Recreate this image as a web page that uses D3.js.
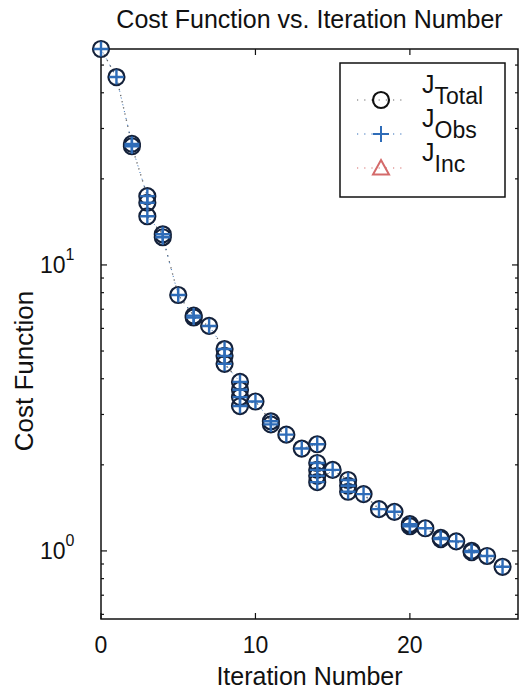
<!DOCTYPE html>
<html>
<head>
<meta charset="utf-8">
<script src="https://cdn.jsdelivr.net/npm/d3@7"></script>
<style>
  body { margin: 0; background: #fff; }
  text { font-family: "Liberation Sans", Arial, sans-serif; fill: #111; }
</style>
</head>
<body>
<div id="chart"></div>
<script>
// Iteration number of every cost evaluation (several per iteration)
var iterations = [0, 1, 2, 2, 3, 3, 3, 4, 4, 5, 6, 6, 7, 8, 8, 8, 9, 9, 9, 9, 10, 11, 11, 12, 13,
  14, 14, 14, 14, 14, 15, 16, 16, 16, 17, 18, 19, 20, 20, 21, 22, 22, 23, 24, 24, 25, 26];
// Total cost
var jTotal = [56.9, 45.4, 26.5, 26.0, 17.4, 16.5, 14.8, 12.8, 12.5, 7.85, 6.65, 6.55, 6.12,
  5.08, 4.81, 4.51, 3.90, 3.66, 3.45, 3.21, 3.33, 2.84, 2.77, 2.55, 2.28,
  2.36, 2.03, 1.92, 1.83, 1.74, 1.92, 1.77, 1.69, 1.61, 1.58, 1.40, 1.37, 1.24, 1.22,
  1.20, 1.11, 1.10, 1.08, 1.00, 0.99, 0.96, 0.88];
// Observation cost sits right on top of the total
var jObs = [56.9, 45.4, 26.5, 26.0, 17.4, 16.5, 14.8, 12.8, 12.5, 7.85, 6.65, 6.55, 6.12,
  5.08, 4.81, 4.51, 3.90, 3.66, 3.45, 3.21, 3.33, 2.84, 2.77, 2.55, 2.28,
  2.36, 2.03, 1.92, 1.83, 1.74, 1.92, 1.77, 1.69, 1.61, 1.58, 1.40, 1.37, 1.24, 1.22,
  1.20, 1.11, 1.10, 1.08, 1.00, 0.99, 0.96, 0.88];
// Increment cost: no triangles visible inside the axes, so nothing to plot
var jInc = [];

var xTicks = [0, 10, 20];
var yTicks = [1, 10];
var legendNames = [["J", "Total"], ["J", "Obs"], ["J", "Inc"]];

var W = 519, H = 693;
var plotL = 101, plotR = 518, plotT = 49, plotB = 619;

var svg = d3.select("#chart").append("svg")
  .attr("width", W).attr("height", H);

var x = d3.scaleLinear().domain([0, 27]).range([plotL, plotR]);
var y = d3.scaleLog().domain([0.578, 56.9]).range([plotB, plotT]);

var blue = "#2e6cb8", red = "#d46a6a", edge = "#14213a";

// title and axis labels
svg.append("text").attr("x", (plotL + plotR) / 2).attr("y", 28)
  .attr("text-anchor", "middle").style("font-size", "25px")
  .text("Cost Function vs. Iteration Number");
svg.append("text").attr("x", (plotL + plotR) / 2).attr("y", 685)
  .attr("text-anchor", "middle").style("font-size", "25px")
  .text("Iteration Number");
svg.append("text").attr("transform", "translate(33,371) rotate(-90)")
  .attr("text-anchor", "middle").style("font-size", "26px")
  .text("Cost Function");

// x tick labels
svg.selectAll(".xl").data(xTicks).enter().append("text")
  .attr("x", function (d) { return x(d); }).attr("y", 653)
  .attr("text-anchor", "middle").style("font-size", "23px")
  .text(function (d) { return d; });

// y tick labels as 10^n
yTicks.forEach(function (t) {
  var lbl = svg.append("text").attr("x", 40).attr("y", y(t) + 8)
    .style("font-size", "23px");
  lbl.append("tspan").text("10");
  lbl.append("tspan").attr("dy", -13).style("font-size", "16px").text(Math.round(Math.log10(t)));
});

// ticks pointing inward, on all four sides
var minor = [];
[0.1, 1, 10].forEach(function (dec) {
  for (var k = 2; k <= 9; k++) {
    var v = k * dec;
    if (v > 0.578 && v < 56.9) minor.push(v);
  }
});
var tickG = svg.append("g").attr("stroke", "#111").attr("stroke-width", 1.2);
yTicks.forEach(function (t) {
  tickG.append("line").attr("x1", plotL).attr("x2", plotL + 6).attr("y1", y(t)).attr("y2", y(t));
  tickG.append("line").attr("x1", plotR).attr("x2", plotR - 6).attr("y1", y(t)).attr("y2", y(t));
});
minor.forEach(function (t) {
  tickG.append("line").attr("x1", plotL).attr("x2", plotL + 3).attr("y1", y(t)).attr("y2", y(t));
  tickG.append("line").attr("x1", plotR).attr("x2", plotR - 3).attr("y1", y(t)).attr("y2", y(t));
});
xTicks.forEach(function (t) {
  tickG.append("line").attr("x1", x(t)).attr("x2", x(t)).attr("y1", plotB).attr("y2", plotB - 6);
  tickG.append("line").attr("x1", x(t)).attr("x2", x(t)).attr("y1", plotT).attr("y2", plotT + 6);
});

// axes box
svg.append("rect").attr("x", plotL).attr("y", plotT)
  .attr("width", plotR - plotL).attr("height", plotB - plotT)
  .attr("fill", "none").attr("stroke", "#111").attr("stroke-width", 1.5);

// dotted connecting lines
var lineOf = function (vals) {
  return d3.line()
    .x(function (d, i) { return x(iterations[i]); })
    .y(function (d) { return y(d); })(vals);
};
svg.append("path").attr("d", lineOf(jTotal)).attr("fill", "none")
  .attr("stroke", "#666").attr("stroke-width", 1.3).attr("stroke-dasharray", "1.3,5");
svg.append("path").attr("d", lineOf(jObs)).attr("fill", "none")
  .attr("stroke", blue).attr("stroke-width", 1).attr("stroke-dasharray", "1,6")
  .attr("stroke-dashoffset", 3);

// markers
function circleMarker(g, cx, cy, r, col) {
  g.append("circle").attr("cx", cx).attr("cy", cy).attr("r", r)
    .attr("fill", "none").attr("stroke", col).attr("stroke-width", 2.2);
}
function plusMarker(g, cx, cy, s, w) {
  g.append("path").attr("d", "M" + (cx - s) + "," + cy + "H" + (cx + s) + "M" + cx + "," + (cy - s) + "V" + (cy + s))
    .attr("stroke", blue).attr("stroke-width", w).attr("fill", "none");
}
function triMarker(g, cx, cy, s) {
  g.append("path").attr("d", "M" + cx + "," + (cy - s) + "L" + (cx + s) + "," + (cy + s * 0.8) + "L" + (cx - s) + "," + (cy + s * 0.8) + "Z")
    .attr("stroke", red).attr("stroke-width", 2).attr("fill", "none");
}

var markG = svg.append("g");
jTotal.forEach(function (v, i) { circleMarker(markG, x(iterations[i]), y(v), 8, edge); });
jObs.forEach(function (v, i) { plusMarker(markG, x(iterations[i]), y(v), 7.5, 2.4); });
jInc.forEach(function (v, i) { triMarker(markG, x(iterations[i]), y(v), 8); });

// legend
var lg = svg.append("g");
lg.append("rect").attr("x", 340).attr("y", 63).attr("width", 165).attr("height", 134)
  .attr("fill", "#fff").attr("stroke", "#111").attr("stroke-width", 1.5);
var legendColors = ["#666", blue, red];
legendNames.forEach(function (nm, i) {
  var ly = 100 + i * 34;
  lg.append("line").attr("x1", 357).attr("x2", 405).attr("y1", ly).attr("y2", ly)
    .attr("stroke", legendColors[i]).attr("stroke-width", 1.2).attr("stroke-dasharray", "1.2,6");
  if (i === 0) circleMarker(lg, 381, ly, 8, "#111");
  if (i === 1) plusMarker(lg, 381, ly, 8, 2);
  if (i === 2) triMarker(lg, 381, ly, 8);
  var t = lg.append("text").attr("x", 422).attr("y", ly - 7).style("font-size", "25px");
  t.append("tspan").text(nm[0]);
  t.append("tspan").attr("dy", 11).style("font-size", "23px").text(nm[1]);
});
</script>
</body>
</html>
